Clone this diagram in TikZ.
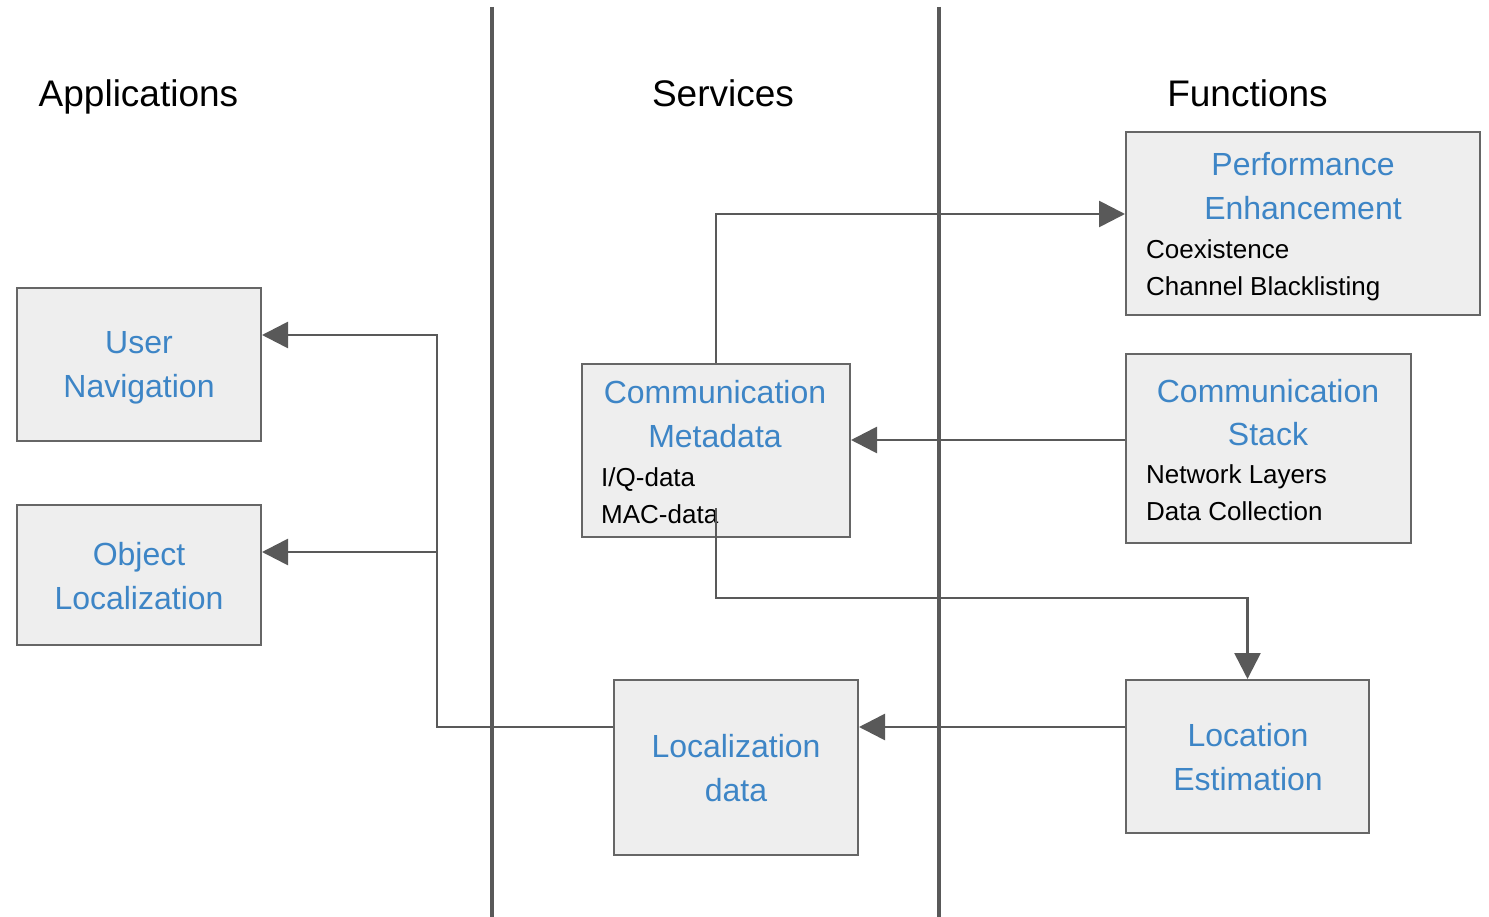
\documentclass[tikz,border=0pt]{standalone}
\usepackage{fontspec}
\setmainfont{Liberation Sans}
\usetikzlibrary{arrows.meta}
\definecolor{lineg}{HTML}{595959}
\definecolor{boxg}{HTML}{666666}
\definecolor{fillg}{HTML}{EEEEEE}
\definecolor{titleblue}{HTML}{3D85C6}
\tikzset{
  box/.style={draw=boxg, fill=fillg, line width=2pt, rectangle, inner sep=0pt},
  conn/.style={draw=lineg, line width=2.7pt, -{Triangle[length=26pt,width=26pt]}},
  sep/.style={draw=lineg, line width=3.3pt},
  head/.style={anchor=base, inner sep=0pt, font=\fontsize{37}{44}\selectfont, text=black},
  ttl/.style={anchor=base, inner sep=0pt, font=\fontsize{32}{38}\selectfont, text=titleblue},
  sub/.style={anchor=base west, inner sep=0pt, font=\fontsize{26}{31}\selectfont, text=black},
}
\begin{document}
\begin{tikzpicture}[x=1pt,y=-1pt]
\useasboundingbox (0,0) rectangle (1489,917);
% separators
\coordinate (s1t) at (492,7);
\coordinate (s1b) at (492,917);
\coordinate (s2t) at (939,7);
\coordinate (s2b) at (939,917);
\draw[sep] (s1t) -- (s1b);
\draw[sep] (s2t) -- (s2b);
% headers
\node[head] (happ) at (138.5,107) {Applications};
\node[head] (hserv) at (723,107) {Services};
\node[head] (hfun) at (1247.5,107) {Functions};
% boxes
\node[box, minimum width=354pt, minimum height=183pt] (perf) at (1303,223.5) {};
\node[box, minimum width=244pt, minimum height=153pt] (user) at (139,364.5) {};
\node[box, minimum width=244pt, minimum height=140pt] (obj) at (139,575) {};
\node[box, minimum width=268pt, minimum height=173pt] (meta) at (716,450.5) {};
\node[box, minimum width=285pt, minimum height=189pt] (stack) at (1268.5,448.5) {};
\node[box, minimum width=244pt, minimum height=175pt] (locdata) at (736,767.5) {};
\node[box, minimum width=243pt, minimum height=153pt] (locest) at (1247.5,756.5) {};
% box texts
\node[ttl] (perf1) at (1303,176) {Performance};
\node[ttl] (perf2) at (1303,220) {Enhancement};
\node[sub] (perf3) at (1146,259) {Coexistence};
\node[sub] (perf4) at (1146,296) {Channel Blacklisting};
\node[ttl] (user1) at (139,353) {User};
\node[ttl] (user2) at (139,397) {Navigation};
\node[ttl] (obj1) at (139,565) {Object};
\node[ttl] (obj2) at (139,609) {Localization};
\node[ttl] (meta1) at (715,403) {Communication};
\node[ttl] (meta2) at (715,447) {Metadata};
\node[sub] (meta3) at (601,486) {I/Q-data};
\node[sub] (meta4) at (601,523) {MAC-data};
\node[ttl] (stack1) at (1268,402) {Communication};
\node[ttl] (stack2) at (1268,445) {Stack};
\node[sub] (stack3) at (1146,483) {Network Layers};
\node[sub] (stack4) at (1146,520) {Data Collection};
\node[ttl] (locd1) at (736,757) {Localization};
\node[ttl] (locd2) at (736,801) {data};
\node[ttl] (loce1) at (1248,746) {Location};
\node[ttl] (loce2) at (1248,790) {Estimation};
% connectors
\draw[conn] (meta.north) |- ([yshift=9.5pt]perf.west);
\draw[conn] ([yshift=8.5pt]stack.west) -- ([yshift=10.5pt]meta.east);
\coordinate (mstart) at (716,508);
\draw[conn] (mstart) -- ++(0,90) -| (locest.north);
\draw[conn] ([yshift=29.5pt]locest.west) -- ([yshift=40.5pt]locdata.east);
\coordinate (j) at (437,552);
\draw[conn] ([yshift=40.5pt]locdata.west) -| (j) |- ([yshift=29.5pt]user.east);
\draw[conn] (j) -- ([yshift=23pt]obj.east);
\end{tikzpicture}
\end{document}
